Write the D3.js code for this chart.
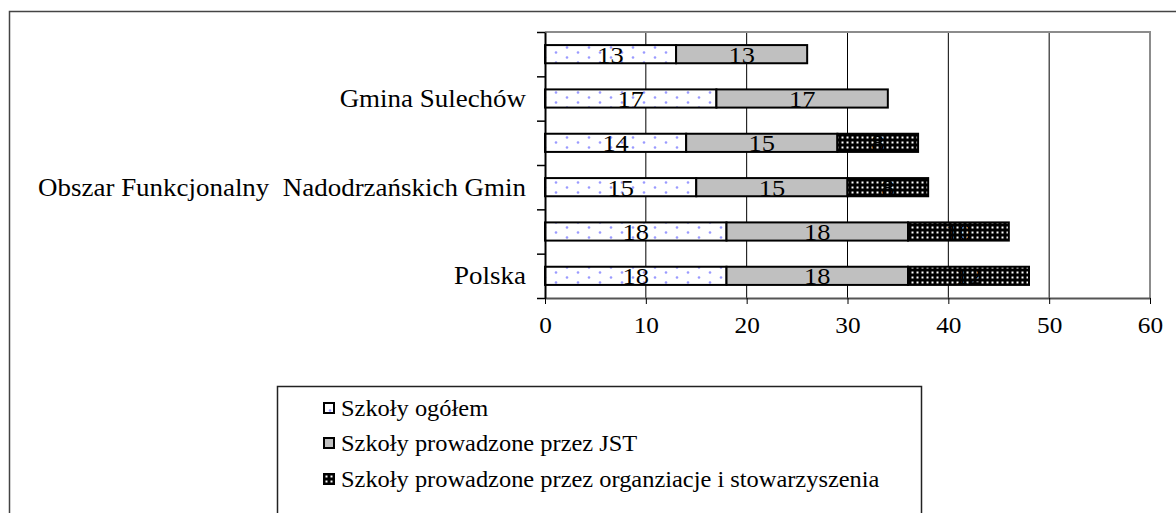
<!DOCTYPE html>
<html>
<head>
<meta charset="utf-8">
<script src="https://cdn.jsdelivr.net/npm/d3@7"></script>
<style>
  body { margin: 0; background: #fff; }
  svg text { font-family: "Liberation Serif", "DejaVu Serif", serif; }
</style>
</head>
<body>
<svg id="chart" width="1176" height="513"></svg>
<script>
// categories, top to bottom (Excel only prints every other name)
const categories = ['', 'Gmina Sulechów', '', 'Obszar Funkcjonalny  Nadodrzańskich Gmin', '', 'Polska']
const seriesNames = ['Szkoły ogółem', 'Szkoły prowadzone przez JST', 'Szkoły prowadzone przez organziacje i stowarzyszenia']
const ogolem = [13, 17, 14, 15, 18, 18]
const jst = [13, 17, 15, 15, 18, 18]
const organizacje = [0, 0, 8, 8, 10, 12]
const xTicks = [0, 10, 20, 30, 40, 50, 60]

const keys = ['ogolem', 'jst', 'org']
const rows = categories.map((c, i) => ({ idx: i, ogolem: ogolem[i], jst: jst[i], org: organizacje[i] }))

const FONT = '"Liberation Serif", "DejaVu Serif", serif'
// the original text is a little wider than Times at the same height
const STRETCH = 'scale(1.1,1)'
const svg = d3.select('#chart')

// patterns
const defs = svg.append('defs')
let p1 = defs.append('pattern').attr('id', 'dots').attr('patternUnits', 'userSpaceOnUse')
  .attr('width', 22).attr('height', 10)
p1.append('rect').attr('width', 22).attr('height', 10).attr('fill', '#fff')
p1.append('circle').attr('cx', 6).attr('cy', 2.5).attr('r', 1.3).attr('fill', '#9a9aff')
p1.append('circle').attr('cx', 17).attr('cy', 7.5).attr('r', 1.3).attr('fill', '#9a9aff')

let p3 = defs.append('pattern').attr('id', 'grid').attr('patternUnits', 'userSpaceOnUse')
  .attr('width', 5).attr('height', 5)
p3.append('rect').attr('width', 5).attr('height', 5).attr('fill', '#000')
p3.append('rect').attr('x', 1.5).attr('y', 1.5).attr('width', 2).attr('height', 2).attr('fill', '#fff')

const fills = { ogolem: 'url(#dots)', jst: '#c0c0c0', org: 'url(#grid)' }

// outer frame
svg.append('path').attr('d', 'M9.5,520 V11.5 H1180')
  .attr('fill', 'none').attr('stroke', '#444').attr('stroke-width', 1.5)

const plotL = 545, plotR = 1150, plotT = 32, plotB = 298

let x = d3.scaleLinear().domain([0, 60]).range([plotL, plotR])
let y = d3.scaleBand().domain(d3.range(categories.length)).range([plotT, plotB])
  .paddingInner(0.59).paddingOuter(0.295)
let yb = d3.scaleLinear().domain([0, categories.length]).range([plotT, plotB])

// gridlines
svg.append('g').selectAll('line').data(xTicks.filter(t => t > 0 && t < 60)).join('line')
  .attr('x1', d => x(d)).attr('x2', d => x(d))
  .attr('y1', plotT).attr('y2', plotB)
  .attr('stroke', '#000').attr('stroke-width', 1)

// plot border top / right
svg.append('path').attr('d', `M${plotL},${plotT} H${plotR} V${plotB}`)
  .attr('fill', 'none').attr('stroke', '#8c8c8c').attr('stroke-width', 2)

// bars
const stacked = d3.stack().keys(keys)(rows)
const layers = svg.append('g').selectAll('g').data(stacked).join('g')
  .attr('fill', d => fills[d.key])

layers.selectAll('rect').data(d => d.filter(s => s[1] - s[0] > 0)).join('rect')
  .attr('x', d => x(d[0]))
  .attr('y', d => y(d.data.idx))
  .attr('width', d => x(d[1]) - x(d[0]))
  .attr('height', y.bandwidth())
  .attr('stroke', '#000').attr('stroke-width', 2)

// data labels
layers.selectAll('text').data(d => d.filter(s => s[1] - s[0] > 0)).join('text')
  .attr('transform', d => `translate(${x((d[0] + d[1]) / 2)},${y(d.data.idx) + y.bandwidth() / 2}) ${STRETCH}`)
  .attr('dy', '0.35em')
  .attr('text-anchor', 'middle')
  .attr('fill', '#000')
  .attr('font-family', FONT)
  .attr('font-size', 24)
  .text(d => d[1] - d[0])

// x axis
let xAxis = svg.append('g').attr('transform', `translate(0,${plotB})`)
  .call(d3.axisBottom(x).tickValues(xTicks).tickSize(6).tickSizeOuter(0).tickPadding(13))
xAxis.attr('font-family', FONT)
xAxis.select('.domain').attr('stroke', '#555').attr('stroke-width', 2)
xAxis.selectAll('.tick line').attr('stroke', '#000')
xAxis.selectAll('text').attr('font-size', 23).attr('font-family', FONT).attr('fill', '#000')
  .attr('transform', STRETCH)

// y axis (ticks at category boundaries)
let yAxis = svg.append('g').attr('transform', `translate(${plotL},0)`)
  .call(d3.axisLeft(yb).tickValues(d3.range(categories.length + 1)).tickFormat('').tickSize(8).tickSizeOuter(0))
yAxis.select('.domain').attr('stroke', '#000').attr('stroke-width', 2)
yAxis.selectAll('.tick line').attr('stroke', '#000').attr('stroke-width', 1.5)

// category labels
svg.append('g').selectAll('text').data(categories).join('text')
  .attr('transform', (d, i) => `translate(526,${y(i) + y.bandwidth() / 2}) ${STRETCH}`)
  .attr('dy', '0.35em')
  .attr('text-anchor', 'end')
  .attr('font-family', FONT)
  .attr('font-size', 24.5)
  .style('white-space', 'pre')
  .text(d => d)

// legend
svg.append('path').attr('d', 'M277.5,520 V386.5 H921.5 V520')
  .attr('fill', 'none').attr('stroke', '#222').attr('stroke-width', 1.5)

const legendY = [408, 443, 479]
let leg = svg.append('g').selectAll('g').data(keys).join('g')
  .attr('transform', (d, i) => `translate(324,${legendY[i]})`)
leg.append('rect').attr('x', 0).attr('y', -5).attr('width', 10).attr('height', 10)
  .attr('fill', d => fills[d]).attr('stroke', '#000').attr('stroke-width', 2)
leg.append('text').attr('transform', `translate(17,0) ${STRETCH}`).attr('dy', '0.35em')
  .attr('font-family', FONT).attr('font-size', 22.2)
  .text((d, i) => seriesNames[i])
</script>
</body>
</html>
